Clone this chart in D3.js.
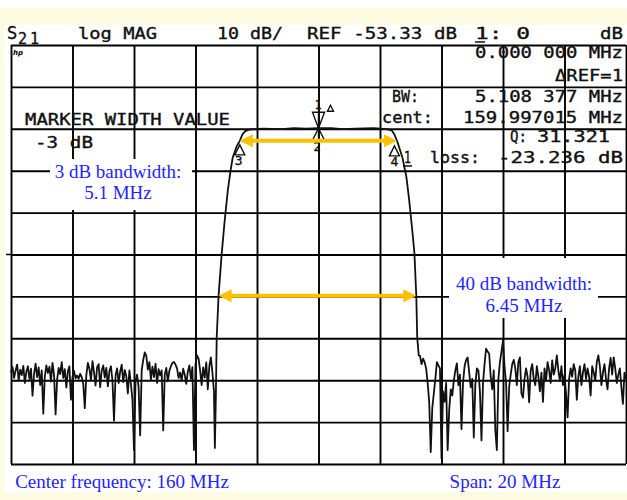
<!DOCTYPE html>
<html lang="en">
<head>
<meta charset="UTF-8">
<title>S21 log MAG</title>
<script src="https://d3js.org/d3.v7.min.js"></script>
<style>
  body{margin:0;background:#fff;}
  svg{display:block;}
  .grid line{stroke:#000;stroke-width:1.9px;}
  .grid path{display:none;}
  .trace{fill:none;stroke:#111;stroke-width:1.8px;stroke-linejoin:round;}
  .mono{font-family:"DejaVu Sans Mono",monospace;font-size:15px;fill:#111;stroke:#111;stroke-width:0.35px;}
  .note{font-family:"Liberation Serif","Times New Roman",serif;font-size:19px;fill:#2424ff;}
  .arrow{stroke:#ffc000;stroke-width:4px;fill:none;}
  .arrowhead{fill:#ffc000;}
  .mk{fill:none;stroke:#111;stroke-width:1.4px;}
</style>
</head>
<body>
<svg width="627" height="500"></svg>
<script>
// tick values (grid): 2 MHz/div and 10 dB/div, ref -53.33 dB at centre
let freqTicks = [150, 152, 154, 156, 158, 160, 162, 164, 166, 168, 170];
let dbTicks = [-103.33, -93.33, -83.33, -73.33, -63.33, -53.33, -43.33, -33.33, -23.33, -13.33, -3.33];

// trace: noise below the passband, left side (150.00 MHz, 0.05 MHz step)
let noiseLeftStart = 150.0, noiseStep = 0.05;
let noiseLeft = [
  -81.5, -80.2, -82.8, -81.0, -79.6, -83.4, -80.8, -82.1, -79.9, -84.0,
  -81.3, -80.0, -83.1, -80.6, -87.0, -81.8, -79.4, -82.6, -80.3, -84.5,
  -81.0, -91.3, -82.4, -79.8, -81.6, -80.1, -83.7, -79.2, -82.0, -91.5,
  -83.2, -80.4, -81.9, -79.0, -82.8, -80.7, -85.1, -81.2, -80.0, -88.0,
  -82.5, -81.1, -82.9, -82.2, -83.0, -81.8, -82.6, -84.2, -90.0, -82.1,
  -79.2, -80.6, -83.3, -78.8, -81.5, -84.6, -80.2, -79.5, -85.0, -81.0,
  -79.8, -82.7, -80.4, -84.8, -81.2, -80.0, -83.5, -93.0, -82.2, -80.5,
  -84.0, -81.3, -79.6, -83.8, -80.9, -82.4, -86.5, -81.0, -84.3, -88.0,
  -100.0, -83.5, -82.0, -85.0, -96.5, -81.0, -78.5, -76.7, -77.5, -80.8,
  -79.0, -83.2, -80.1, -82.6, -79.4, -84.0, -80.7, -82.2, -81.0, -95.3,
  -82.0, -80.4, -83.6, -81.1, -80.0, -79.2, -79.0, -79.6, -80.5, -82.8,
  -81.5, -83.4, -80.6, -82.0, -84.2, -81.3, -79.8, -83.0, -80.2, -100.0,
  -79.5, -77.4, -78.2, -81.0, -84.5, -80.3, -82.7, -79.1, -85.5, -80.0,
  -77.9, -81.5, -86.0
];

// skirts and passband
let bandFreq = [156.63, 156.66, 156.69, 156.75, 156.85, 156.95, 157.05, 157.14, 157.21, 157.34,
  157.44, 157.53, 157.62, 157.76, 158.2, 158.8, 159.2, 159.6, 160.0, 160.4,
  160.8, 161.2, 161.8, 162.2, 162.38, 162.47, 162.56, 162.73, 162.86, 162.95,
  163.05, 163.12, 163.18, 163.21, 163.26];
let bandDb = [-99.5, -88.0, -73.0, -63.2, -53.3, -45.2, -38.1, -33.3, -30.2, -27.5,
  -26.2, -24.6, -23.9, -23.5, -23.3, -23.4, -23.2, -23.3, -23.2, -23.2,
  -23.4, -23.3, -23.2, -23.4, -23.7, -24.7, -26.3, -30.2, -34.9, -40.4,
  -47.6, -53.1, -63.2, -73.1, -77.4];

// noise right side (163.30 MHz, 0.05 MHz step)
let noiseRightStart = 163.3;
let noiseRight = [
  -77.5, -79.5, -78.2, -79.0, -80.5, -84.0, -88.5, -100.5, -90.0, -86.5,
  -83.0, -79.0, -79.8, -80.5, -102.0, -86.0, -88.5, -84.0, -100.0, -90.5,
  -85.5, -87.0, -83.5, -81.0, -79.3, -84.5, -82.0, -95.0, -84.0, -80.0,
  -78.5, -77.9, -81.5, -85.0, -83.0, -97.0, -84.5, -80.5, -81.0, -86.0,
  -97.7, -84.0, -79.5, -75.8, -76.5, -77.0, -82.5, -85.5, -81.0, -95.3,
  -100.0, -83.0, -79.0, -76.5, -73.9, -80.0, -84.0, -95.5, -85.0, -82.0,
  -79.5, -78.5, -80.5, -84.5, -79.0, -77.9, -86.5, -87.5, -83.0, -80.5,
  -82.5, -88.6, -81.0, -79.5, -83.0, -84.5, -80.0, -82.5, -86.0, -81.5,
  -88.5, -80.5, -83.5, -79.0, -81.0, -84.0, -78.6, -82.0, -80.5, -77.4,
  -81.0, -83.5, -80.0, -84.5, -82.0, -86.5, -92.2, -83.0, -80.5, -82.5,
  -79.5, -81.0, -88.0, -82.5, -80.0, -84.5, -81.5, -79.5, -83.0, -80.5,
  -82.5, -87.0, -80.0, -81.5, -83.5, -79.0, -77.4, -80.0, -84.5, -81.5,
  -79.5, -83.0, -85.5, -80.5, -78.0, -82.0, -77.9, -80.5, -84.0, -82.0,
  -80.5, -85.0, -89.0, -81.5, -83.0
];

// bandwidth arrows: [f1, f2, level dB]
let bw3 = [157.44, 162.55, -26.2];
let bw40 = [156.75, 163.18, -63.2];

let svg = d3.select('svg');
let plot = {left: 11, right: 626, top: 45, bottom: 464};
let x = d3.scaleLinear().domain([150, 170]).range([plot.left, plot.right]);
let y = d3.scaleLinear().domain([-103.33, -3.33]).range([plot.bottom, plot.top]);

// page background bits (pale yellow margins)
svg.append('rect').attr('x', 0).attr('y', 8).attr('width', 627).attr('height', 17).attr('fill', '#fdfbe1');
svg.append('rect').attr('x', 0).attr('y', 8).attr('width', 4).attr('height', 492).attr('fill', '#fdfbe1');
svg.append('rect').attr('x', 0).attr('y', 492).attr('width', 627).attr('height', 8).attr('fill', '#fdfbe1');

// grid
let grid = svg.append('g').attr('class', 'grid');
grid.append('g').attr('transform', 'translate(0,' + plot.bottom + ')')
  .call(d3.axisBottom(x).tickValues(freqTicks).tickSize(-(plot.bottom - plot.top)).tickFormat(''));
grid.append('g').attr('transform', 'translate(' + plot.left + ',0)')
  .call(d3.axisLeft(y).tickValues(dbTicks).tickSize(-(plot.right - plot.left)).tickFormat(''));
// reference position tick on left edge
svg.append('line').attr('x1', plot.left - 5).attr('x2', plot.left).attr('y1', y(-53.33)).attr('y2', y(-53.33))
  .attr('stroke', '#000').attr('stroke-width', 1.5);

// white boxes behind the notes
svg.append('rect').attr('x', 50).attr('y', 159).attr('width', 142).attr('height', 51).attr('fill', '#fff');
svg.append('rect').attr('x', 449).attr('y', 258).attr('width', 149).attr('height', 60).attr('fill', '#fff');

// trace
let pts = [];
noiseLeft.forEach(function (d, i) { pts.push([noiseLeftStart + i * noiseStep, d]); });
bandFreq.forEach(function (f, i) { pts.push([f, bandDb[i]]); });
noiseRight.forEach(function (d, i) { pts.push([noiseRightStart + i * noiseStep, d]); });
let line = d3.line().x(function (d) { return x(d[0]); }).y(function (d) { return y(d[1]); });
svg.append('path').attr('class', 'trace').attr('d', line(pts));

// markers
let mk = svg.append('g');
let cx = x(160), cy = y(-23.2);
mk.append('path').attr('class', 'mk').attr('d', 'M' + (cx - 6) + ',' + (cy - 16) + 'L' + (cx + 6) + ',' + (cy - 16) + 'L' + cx + ',' + cy + 'Z');
mk.append('path').attr('class', 'mk').attr('d', 'M' + cx + ',' + (cy - 22) + 'L' + cx + ',' + (cy + 10));
mk.append('path').attr('class', 'mk').attr('d', 'M' + (cx - 6) + ',' + (cy + 12) + 'L' + (cx + 6) + ',' + (cy + 12) + 'L' + cx + ',' + cy + 'Z');
mk.append('path').attr('class', 'mk').attr('d', 'M' + (cx + 9) + ',' + (cy - 17) + 'L' + (cx + 15) + ',' + (cy - 17) + 'L' + (cx + 12) + ',' + (cy - 23) + 'Z');
mk.append('text').attr('class', 'mono').style('font-size', '12px').attr('x', cx - 4).attr('y', cy - 19).text('1');
mk.append('text').attr('class', 'mono').style('font-size', '12px').attr('x', cx - 5).attr('y', cy + 23).text('2');
[[x(157.44), y(-26.2) + 4, '3', -1], [x(162.47), y(-26.2) + 5, '4', 0]].forEach(function (m) {
  mk.append('path').attr('class', 'mk').attr('d', 'M' + (m[0] - 5) + ',' + (m[1] + 10) + 'L' + (m[0] + 5) + ',' + (m[1] + 10) + 'L' + m[0] + ',' + m[1] + 'Z');
  mk.append('text').attr('class', 'mono').style('font-size', '13px').attr('x', m[0] - 4 + m[3]).attr('y', m[1] + 20).text(m[2]);
});

// bandwidth arrows
function arrow(b) {
  let x1 = x(b[0]), x2 = x(b[1]), yy = y(b[2]);
  let g = svg.append('g');
  g.append('line').attr('class', 'arrow').attr('x1', x1 + 10).attr('x2', x2 - 10).attr('y1', yy).attr('y2', yy);
  g.append('path').attr('class', 'arrowhead').attr('d', 'M' + x1 + ',' + yy + 'L' + (x1 + 13) + ',' + (yy - 6.5) + 'L' + (x1 + 13) + ',' + (yy + 6.5) + 'Z');
  g.append('path').attr('class', 'arrowhead').attr('d', 'M' + x2 + ',' + yy + 'L' + (x2 - 13) + ',' + (yy - 6.5) + 'L' + (x2 - 13) + ',' + (yy + 6.5) + 'Z');
}
arrow(bw3);
arrow(bw40);

// analyzer annotation text
let labels = [
  ['log MAG', 78, 39, 79],
  ['10 dB/', 217, 39, 66],
  ['REF -53.33 dB', 307, 39, 150],
  ['1: 0', 475, 39, 55],
  ['dB', 600, 39, 23],
  ['0.000 000 MHz', 475, 58, 148],
  ['\u0394REF=1', 555, 81, 68],
  ['BW:', 392, 102, 27],
  ['5.108 377 MHz', 475, 102, 148],
  ['cent:', 382, 123, 51],
  ['159.997015 MHz', 463, 123, 160],
  ['Q:', 510, 142, 17],
  ['31.321', 537, 142, 73],
  ['1', 404, 163, 7],
  ['loss:', 430, 163, 50],
  ['-23.236 dB', 498, 163, 125],
  ['MARKER WIDTH VALUE', 25, 125, 205],
  ['-3 dB', 35, 148, 58]
];
svg.selectAll('text.lbl').data(labels).enter().append('text')
  .attr('class', 'mono lbl')
  .attr('x', function (d) { return d[1]; })
  .attr('y', function (d) { return d[2]; })
  .attr('textLength', function (d) { return d[3]; })
  .attr('lengthAdjust', 'spacingAndGlyphs')
  .text(function (d) { return d[0]; });
svg.append('text').attr('class', 'mono').attr('x', 7).attr('y', 39).style('font-size', '17px').text('S');
svg.append('text').attr('class', 'mono').attr('x', 18).attr('y', 44).attr('textLength', 21).text('21');
svg.append('line').attr('x1', 475).attr('x2', 485).attr('y1', 42).attr('y2', 42).attr('stroke', '#111').attr('stroke-width', 1.5);
svg.append('line').attr('x1', 403).attr('x2', 412).attr('y1', 166).attr('y2', 166).attr('stroke', '#111').attr('stroke-width', 1.5);
svg.append('text').attr('x', 13).attr('y', 55).style('font-family', 'DejaVu Sans').style('font-size', '7px')
  .style('font-weight', 'bold').style('font-style', 'italic').text('hp');

// blue notes
let notes = [
  ['3 dB bandwidth:', 118, 178],
  ['5.1 MHz', 118, 199],
  ['40 dB bandwidth:', 524, 290],
  ['6.45 MHz', 524, 312],
  ['Center frequency: 160 MHz', 122, 488],
  ['Span: 20 MHz', 505, 488]
];
svg.selectAll('text.note').data(notes).enter().append('text')
  .attr('class', 'note')
  .attr('text-anchor', 'middle')
  .attr('x', function (d) { return d[1]; })
  .attr('y', function (d) { return d[2]; })
  .text(function (d) { return d[0]; });
</script>
</body>
</html>
